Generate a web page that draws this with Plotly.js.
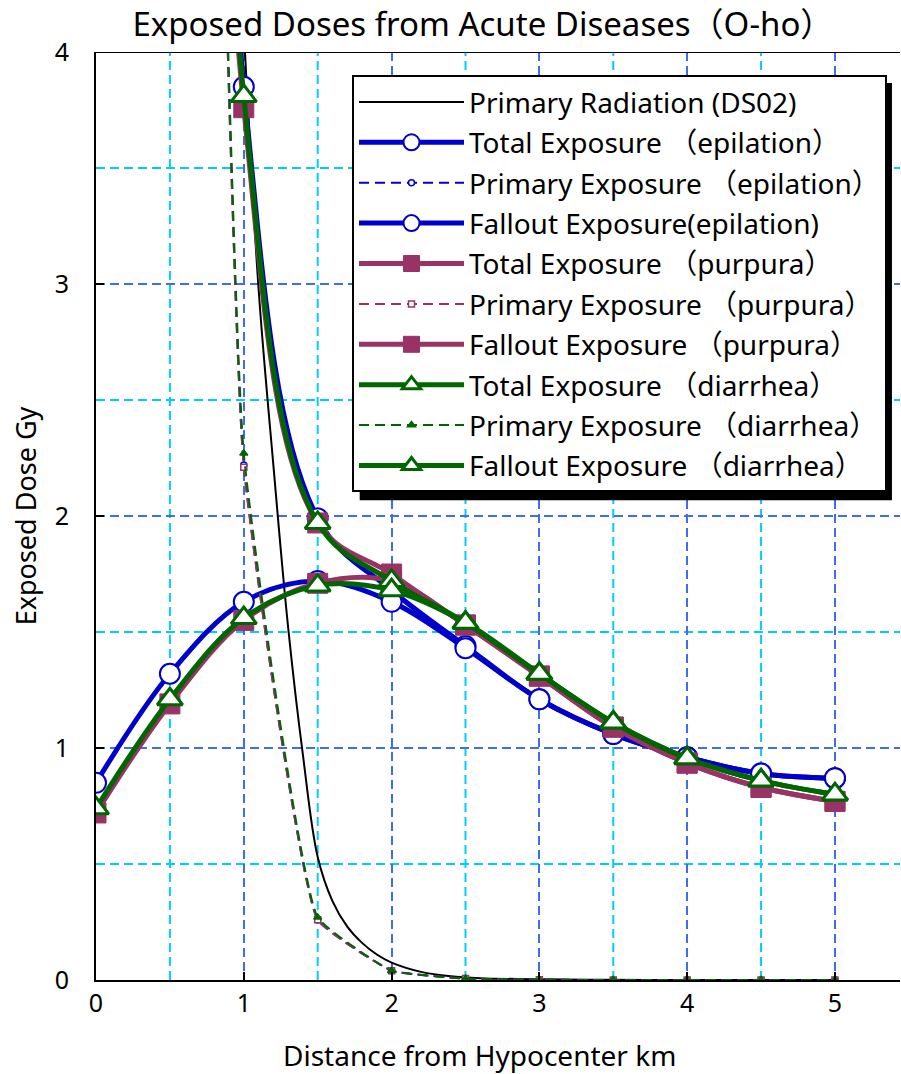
<!DOCTYPE html>
<html>
<head>
<meta charset="utf-8">
<script src="https://cdn.plot.ly/plotly-3.0.1.min.js"></script>
<style>html,body{margin:0;padding:0;background:#fff;}#chart{width:901px;height:1074px;}</style>
</head>
<body>
<div id="chart"></div>
<script>
// Distance from hypocenter (km)
const dist = [0, 0.5, 1, 1.5, 2, 2.5, 3, 3.5, 4, 4.5, 5];

// Primary radiation (DS02)
const ds02X = [0.9, 1.0, 1.1, 1.2, 1.3, 1.4, 1.5, 1.6, 1.7, 1.8, 1.9, 2.0, 2.2, 2.4, 2.6, 3.0, 3.5, 4.0, 4.5, 5.0];
const ds02Y = [5.5, 4.1, 2.98, 2.22, 1.52, 0.97, 0.53, 0.34, 0.23, 0.16, 0.11, 0.075, 0.035, 0.016, 0.008, 0.003, 0.001, 0, 0, 0];

// Epilation
const totalEpil   = [40.85, 16.32, 3.85, 1.99, 1.68, 1.44, 1.21, 1.06, 0.96, 0.89, 0.87];
const primaryEpil = [40, 15, 2.22, 0.26, 0.04, 0.006, 0.001, 0, 0, 0, 0];
const falloutEpil = [0.85, 1.32, 1.63, 1.72, 1.63, 1.43, 1.21, 1.06, 0.96, 0.89, 0.87];

// Purpura
const totalPurp   = [40.72, 16.19, 3.76, 1.97, 1.75, 1.53, 1.31, 1.09, 0.935, 0.83, 0.77];
const primaryPurp = [40, 15, 2.21, 0.26, 0.04, 0.006, 0.001, 0, 0, 0, 0];
const falloutPurp = [0.72, 1.19, 1.55, 1.71, 1.72, 1.53, 1.31, 1.09, 0.935, 0.83, 0.77];

// Diarrhea
const totalDiar   = [40.74, 16.21, 3.81, 1.97, 1.72, 1.54, 1.32, 1.11, 0.956, 0.86, 0.80];
const primaryDiar = [40, 15, 2.27, 0.27, 0.04, 0.006, 0.001, 0, 0, 0, 0];
const falloutDiar = [0.74, 1.21, 1.56, 1.70, 1.68, 1.54, 1.32, 1.11, 0.956, 0.86, 0.80];

const names = [
  'Primary Radiation (DS02)',
  'Total Exposure （epilation）',
  'Primary Exposure （epilation）',
  'Fallout Exposure(epilation)',
  'Total Exposure （purpura）',
  'Primary Exposure （purpura）',
  'Fallout Exposure （purpura）',
  'Total Exposure （diarrhea）',
  'Primary Exposure （diarrhea）',
  'Fallout Exposure （diarrhea）'
];
const xTickVals = [0, 1, 2, 3, 4, 5];
const xMinorVals = [0.5, 1.5, 2.5, 3.5, 4.5];
const yTickVals = [0, 1, 2, 3, 4];
const yMinorVals = [0.5, 1.5, 2.5, 3.5];

const BLUE = '#0000CC', PURP = '#993366', GREEN = '#006600';
const FONT = '"Noto Sans", "Noto Sans CJK JP", sans-serif';
const MAJOR = '#3f6cf2', MINOR = '#00ccff';

function thick(name, y, color, sym, size, fill, lw) {
  return {x: dist, y: y, name: name, mode: 'lines+markers', legendgroup: name,
    line: {color: color, width: 5, shape: 'spline', smoothing: 1},
    marker: {symbol: sym, size: size, color: fill, line: {color: color, width: lw}}};
}
function dashed(name, y, color, sym, size, fill) {
  return {x: dist, y: y, name: name, mode: 'lines+markers', legendgroup: name,
    line: {color: color, width: 2, dash: '10px,6px', shape: 'spline', smoothing: 0.35},
    marker: {symbol: sym, size: size, color: fill, line: {color: color, width: 1.5}}};
}

const traces = [
  {x: ds02X, y: ds02Y, name: names[0], mode: 'lines', legendgroup: names[0],
   line: {color: '#000000', width: 2, shape: 'spline'}},
  thick(names[1], totalEpil, BLUE, 'circle', 20, '#ffffff', 2),
  dashed(names[2], primaryEpil, BLUE, 'circle', 6, '#ffffff'),
  thick(names[3], falloutEpil, BLUE, 'circle', 20, '#ffffff', 2),
  thick(names[4], totalPurp, PURP, 'square', 20, PURP, 1),
  dashed(names[5], primaryPurp, PURP, 'square', 6, '#ffffff'),
  thick(names[6], falloutPurp, PURP, 'square', 20, PURP, 1),
  thick(names[7], totalDiar, GREEN, 'triangle-up', 22, '#ffffff', 3),
  dashed(names[8], primaryDiar, GREEN, 'triangle-up', 7, GREEN),
  thick(names[9], falloutDiar, GREEN, 'triangle-up', 22, '#ffffff', 3)
];

const axCommon = {showline: true, linecolor: '#000', linewidth: 2, zeroline: false,
  ticks: 'inside', ticklen: 8, tickcolor: '#000', tickwidth: 2,
  showgrid: true, gridcolor: MAJOR, gridwidth: 2, griddash: '9px,5px'};

// minor grid lines (cyan) built from the minor tick arrays
const minorShapes = xMinorVals.map(v => ({type: 'line', xref: 'x', yref: 'paper', x0: v, x1: v, y0: 0, y1: 1,
    line: {color: MINOR, width: 2, dash: '9px,5px'}, layer: 'below'}))
  .concat(yMinorVals.map(v => ({type: 'line', xref: 'paper', yref: 'y', x0: 0, x1: 1, y0: v, y1: v,
    line: {color: MINOR, width: 2, dash: '9px,5px'}, layer: 'below'})));

const layout = {
  width: 901, height: 1074,
  margin: {l: 96, r: 1, t: 52, b: 94},
  paper_bgcolor: '#ffffff', plot_bgcolor: '#ffffff',
  font: {family: FONT, size: 25, color: '#000'},
  title: {text: 'Exposed Doses from Acute Diseases（O-ho）', x: 0.536, xref: 'container',
          y: 0.977, yref: 'container', yanchor: 'middle', font: {family: FONT, size: 33, color: '#000'}},
  showlegend: true,
  legend: {x: 0.3184, y: 0.975, xanchor: 'left', yanchor: 'top', bgcolor: '#ffffff',
           bordercolor: '#000000', borderwidth: 2, font: {family: FONT, size: 28, color: '#000'},
           tracegroupgap: 1, itemwidth: 105},
  xaxis: Object.assign({}, axCommon, {
          range: [0, 5.44], tickmode: 'array', tickvals: xTickVals, ticktext: xTickVals.map(String),
          tickfont: {family: FONT, size: 25}, ticklabelstandoff: 0}),
  yaxis: Object.assign({}, axCommon, {
          range: [0, 4], tickmode: 'array', tickvals: yTickVals, ticktext: yTickVals.map(String),
          tickfont: {family: FONT, size: 25}, ticklabelstandoff: 20,
          title: {text: 'Exposed Dose Gy', font: {family: FONT, size: 27}, standoff: 10}}),
  annotations: [
    {text: 'Distance from Hypocenter km', xref: 'paper', yref: 'paper', x: 0.4776, y: -0.0808,
     xanchor: 'center', yanchor: 'middle', showarrow: false, font: {family: FONT, size: 28, color: '#000'}}
  ],
  shapes: minorShapes.concat([
    {type: 'line', xref: 'paper', yref: 'y', x0: 0, x1: 1, y0: 4, y1: 4, line: {color: '#000', width: 2}, layer: 'above'},
    {type: 'rect', xref: 'paper', yref: 'paper', x0: 0.328, x1: 0.990, y0: 0.517, y1: 0.9666,
     fillcolor: '#000', line: {width: 0}, layer: 'above'}
  ])
};

Plotly.newPlot('chart', traces, layout, {displayModeBar: false});
</script>
</body>
</html>
